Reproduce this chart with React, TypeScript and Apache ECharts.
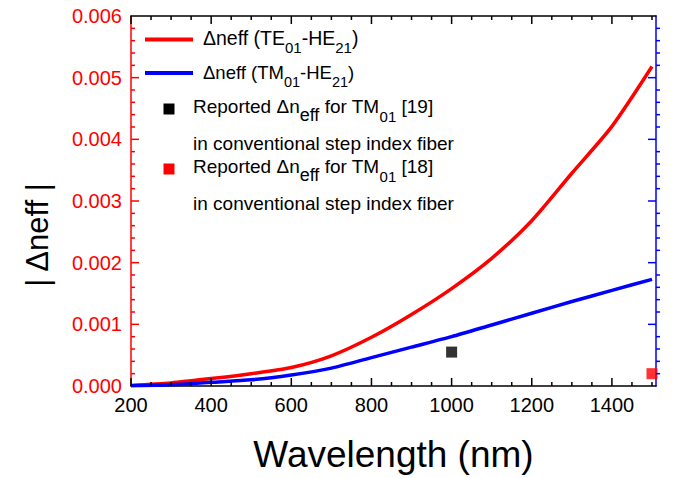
import React, { useEffect, useRef } from "react";
import * as echarts from "echarts";

// Wavelength samples (nm) and |Δneff| of the two mode pairs
const wavelength = [200, 300, 400, 500, 600, 700, 800, 900, 1000, 1100, 1200, 1300, 1400, 1500];
const dnTE01HE21 = [0.00001, 0.00005, 0.00012, 0.0002, 0.0003, 0.00049, 0.00079, 0.00116, 0.00158, 0.00207, 0.00268, 0.00345, 0.00421, 0.00518];
const dnTM01HE21 = [0.000005, 0.00002, 0.00006, 0.0001, 0.00018, 0.00029, 0.00046, 0.00063, 0.0008, 0.00099, 0.00118, 0.00137, 0.00155, 0.00173];

// Reported values for TM01 in conventional step index fibres
const reported19 = [[1000, 0.00055]];
const reported18 = [[1500, 0.0002]];

// Tick positions of the frame
const xMajorTicks = [200, 400, 600, 800, 1000, 1200, 1400];
const xMinorTicks = [250, 300, 350, 450, 500, 550, 650, 700, 750, 850, 900, 950, 1050, 1100, 1150, 1250, 1300, 1350, 1450, 1500];
const yMajorTicks = [0.001, 0.002, 0.003, 0.004, 0.005];
const yMinorTicks = [
  0.0002, 0.0004, 0.0006, 0.0008, 0.0012, 0.0014, 0.0016, 0.0018, 0.0022, 0.0024, 0.0026, 0.0028,
  0.0032, 0.0034, 0.0036, 0.0038, 0.0042, 0.0044, 0.0046, 0.0048, 0.0052, 0.0054, 0.0056, 0.0058,
];

const X_MIN = 200;
const X_MAX = 1510;
const X_STEP = 200;
const Y_MIN = 0;
const Y_MAX = 0.006;
const Y_STEP = 0.001;

const MAJOR_LEN = 8;
const MINOR_LEN = 4;

const FONT = "'Liberation Sans', Arial, sans-serif";
const RED = "#ff0000";
const BLUE = "#0000ff";

const pairs = (xs: number[], ys: number[]) => xs.map((x, i) => [x, ys[i]]);

const legendRich = {
  a: { fontSize: 19.5, fontFamily: FONT, color: "#000", lineHeight: 27, verticalAlign: "top" },
  s: { fontSize: 15, fontFamily: FONT, color: "#000", lineHeight: 14, verticalAlign: "bottom" },
  b: { fontSize: 18.5, fontFamily: FONT, color: "#000", lineHeight: 26, verticalAlign: "top" },
  t: { fontSize: 14.5, fontFamily: FONT, color: "#000", lineHeight: 14, verticalAlign: "bottom" },
  r: { fontSize: 19, fontFamily: FONT, color: "#000", lineHeight: 27, verticalAlign: "top" },
  e: { fontSize: 18, fontFamily: FONT, color: "#000", lineHeight: 16, verticalAlign: "bottom" },
  u: { fontSize: 15, fontFamily: FONT, color: "#000", lineHeight: 14, verticalAlign: "bottom" },
};

// Tick marks drawn as a custom series, positioned through the axes' scales.
// Each datum: [x, y, length, direction]; direction +1 points into the plot.
const tickLine = (x1: number, y1: number, x2: number, y2: number, color: string) => ({
  type: "line",
  shape: { x1, y1, x2, y2 },
  style: { stroke: color, lineWidth: 1.5 },
});

const renderXTicks = (_params: any, api: any) => {
  const x = api.value(0);
  const len = api.value(2);
  const b = api.coord([x, Y_MIN]);
  const t = api.coord([x, Y_MAX]);
  return {
    type: "group",
    children: [tickLine(b[0], b[1], b[0], b[1] - len, "#000"), tickLine(t[0], t[1], t[0], t[1] + len, "#000")],
  };
};

const renderLeftTicks = (_params: any, api: any) => {
  const y = api.value(1);
  const len = api.value(2);
  const p = api.coord([X_MIN, y]);
  return tickLine(p[0], p[1], p[0] + len, p[1], RED);
};

const renderRightTicks = (_params: any, api: any) => {
  const y = api.value(1);
  const len = api.value(2);
  const dir = api.value(3);
  const p = api.coord([X_MAX, y]);
  return tickLine(p[0], p[1], p[0] - dir * len, p[1], BLUE);
};

export default function App() {
  const ref = useRef<HTMLDivElement>(null);

  useEffect(() => {
    if (!ref.current) return;
    const chart = echarts.init(ref.current, undefined, { renderer: "svg" });

    const xScale = { type: "value", min: X_MIN, max: X_MAX, interval: X_STEP, splitLine: { show: false } };
    const yScale = { type: "value", min: Y_MIN, max: Y_MAX, interval: Y_STEP, splitLine: { show: false } };

    const xTickData = [
      ...xMajorTicks.map((v) => [v, Y_MIN, MAJOR_LEN, 1]),
      ...xMinorTicks.map((v) => [v, Y_MIN, MINOR_LEN, 1]),
    ];
    const leftTickData = [
      ...yMajorTicks.map((v) => [X_MIN, v, MAJOR_LEN, 1]),
      ...yMinorTicks.map((v) => [X_MIN, v, MINOR_LEN, 1]),
    ];
    const rightTickData = [
      ...yMajorTicks.map((v) => [X_MAX, v, MAJOR_LEN, 1]),
      ...yMinorTicks.map((v) => [X_MAX, v, MINOR_LEN, -1]),
    ];

    const tickSeries = (data: number[][], renderItem: any) => ({
      type: "custom",
      xAxisIndex: 0,
      yAxisIndex: 0,
      data,
      encode: { x: 0, y: 1 },
      renderItem,
      clip: false,
      silent: true,
      z: 5,
    });

    chart.setOption({
      animation: false,
      backgroundColor: "#fff",
      grid: { left: 131, right: 30, top: 16, bottom: 73 },
      xAxis: [
        {
          ...xScale,
          position: "bottom",
          name: "Wavelength (nm)",
          nameLocation: "middle",
          nameGap: 50,
          nameTextStyle: { fontSize: 37, fontFamily: FONT, color: "#000" },
          axisLine: { show: true, lineStyle: { color: "#000", width: 1.5 } },
          axisTick: { show: false },
          axisLabel: {
            fontSize: 20,
            fontFamily: FONT,
            color: "#000",
            margin: 9,
            showMaxLabel: false,
            formatter: (v: number) => String(v),
          },
        },
        {
          ...xScale,
          position: "top",
          axisLine: { show: true, onZero: false, lineStyle: { color: "#000", width: 1.5 } },
          axisTick: { show: false },
          axisLabel: { show: false },
        },
      ],
      yAxis: [
        {
          ...yScale,
          position: "left",
          axisLine: { show: true, lineStyle: { color: RED, width: 1.5 } },
          axisTick: { show: false },
          axisLabel: {
            fontSize: 20,
            fontFamily: FONT,
            color: RED,
            margin: 9,
            formatter: (v: number) => v.toFixed(3),
          },
        },
        {
          ...yScale,
          position: "right",
          axisLine: { show: true, onZero: false, lineStyle: { color: BLUE, width: 1.5 } },
          axisTick: { show: false },
          axisLabel: { show: false },
        },
      ],
      series: [
        {
          name: "TE01-HE21",
          type: "line",
          xAxisIndex: 0,
          yAxisIndex: 0,
          data: pairs(wavelength, dnTE01HE21),
          symbol: "none",
          smooth: 0.25,
          lineStyle: { color: RED, width: 3.5 },
          z: 3,
        },
        {
          name: "TM01-HE21",
          type: "line",
          xAxisIndex: 0,
          yAxisIndex: 0,
          data: pairs(wavelength, dnTM01HE21),
          symbol: "none",
          smooth: 0.25,
          lineStyle: { color: BLUE, width: 3.5 },
          z: 3,
        },
        {
          name: "Reported [19]",
          type: "scatter",
          xAxisIndex: 0,
          yAxisIndex: 0,
          data: reported19,
          symbol: "rect",
          symbolSize: 11,
          itemStyle: { color: "#000" },
          z: 4,
        },
        {
          name: "Reported [18]",
          type: "scatter",
          xAxisIndex: 0,
          yAxisIndex: 0,
          data: reported18,
          symbol: "rect",
          symbolSize: 11,
          itemStyle: { color: RED },
          z: 4,
        },
        tickSeries(xTickData, renderXTicks),
        tickSeries(leftTickData, renderLeftTicks),
        tickSeries(rightTickData, renderRightTicks),
      ],
      graphic: [
        {
          type: "text",
          x: 37,
          y: 235,
          rotation: Math.PI / 2,
          style: {
            text: "| Δneff |",
            fontSize: 31,
            fontFamily: FONT,
            fill: "#000",
            align: "center",
            verticalAlign: "middle",
          },
        },
        { type: "line", shape: { x1: 145, y1: 39.5, x2: 193, y2: 39.5 }, style: { stroke: RED, lineWidth: 4 } },
        {
          type: "text",
          x: 203,
          y: 41,
          style: {
            text: "{a|Δneff (TE}{s|01}{a|-HE}{s|21}{a|)}",
            rich: legendRich,
            verticalAlign: "middle",
            align: "left",
          },
        },
        { type: "line", shape: { x1: 145, y1: 73, x2: 193, y2: 73 }, style: { stroke: BLUE, lineWidth: 4 } },
        {
          type: "text",
          x: 203,
          y: 76,
          style: {
            text: "{b|Δneff (TM}{t|01}{b|-HE}{t|21}{b|)}",
            rich: legendRich,
            verticalAlign: "middle",
            align: "left",
          },
        },
        { type: "rect", shape: { x: 163.5, y: 103.5, width: 11, height: 11 }, style: { fill: "#000" } },
        {
          type: "text",
          x: 193,
          y: 110,
          style: {
            text: "{r|Reported Δn}{e|eff}{r| for TM}{u|01}{r| [19]}",
            rich: legendRich,
            verticalAlign: "middle",
            align: "left",
          },
        },
        {
          type: "text",
          x: 193,
          y: 143,
          style: {
            text: "in conventional step index fiber",
            fontSize: 19,
            fontFamily: FONT,
            fill: "#000",
            verticalAlign: "middle",
            align: "left",
          },
        },
        { type: "rect", shape: { x: 163.5, y: 163.5, width: 11, height: 11 }, style: { fill: RED } },
        {
          type: "text",
          x: 193,
          y: 170,
          style: {
            text: "{r|Reported Δn}{e|eff}{r| for TM}{u|01}{r| [18]}",
            rich: legendRich,
            verticalAlign: "middle",
            align: "left",
          },
        },
        {
          type: "text",
          x: 193,
          y: 203,
          style: {
            text: "in conventional step index fiber",
            fontSize: 19,
            fontFamily: FONT,
            fill: "#000",
            verticalAlign: "middle",
            align: "left",
          },
        },
      ],
    });

    return () => chart.dispose();
  }, []);

  return (
    <div
      ref={ref}
      style={{ position: "fixed", left: 0, top: 0, width: 686, height: 478, background: "#fff" }}
    />
  );
}
